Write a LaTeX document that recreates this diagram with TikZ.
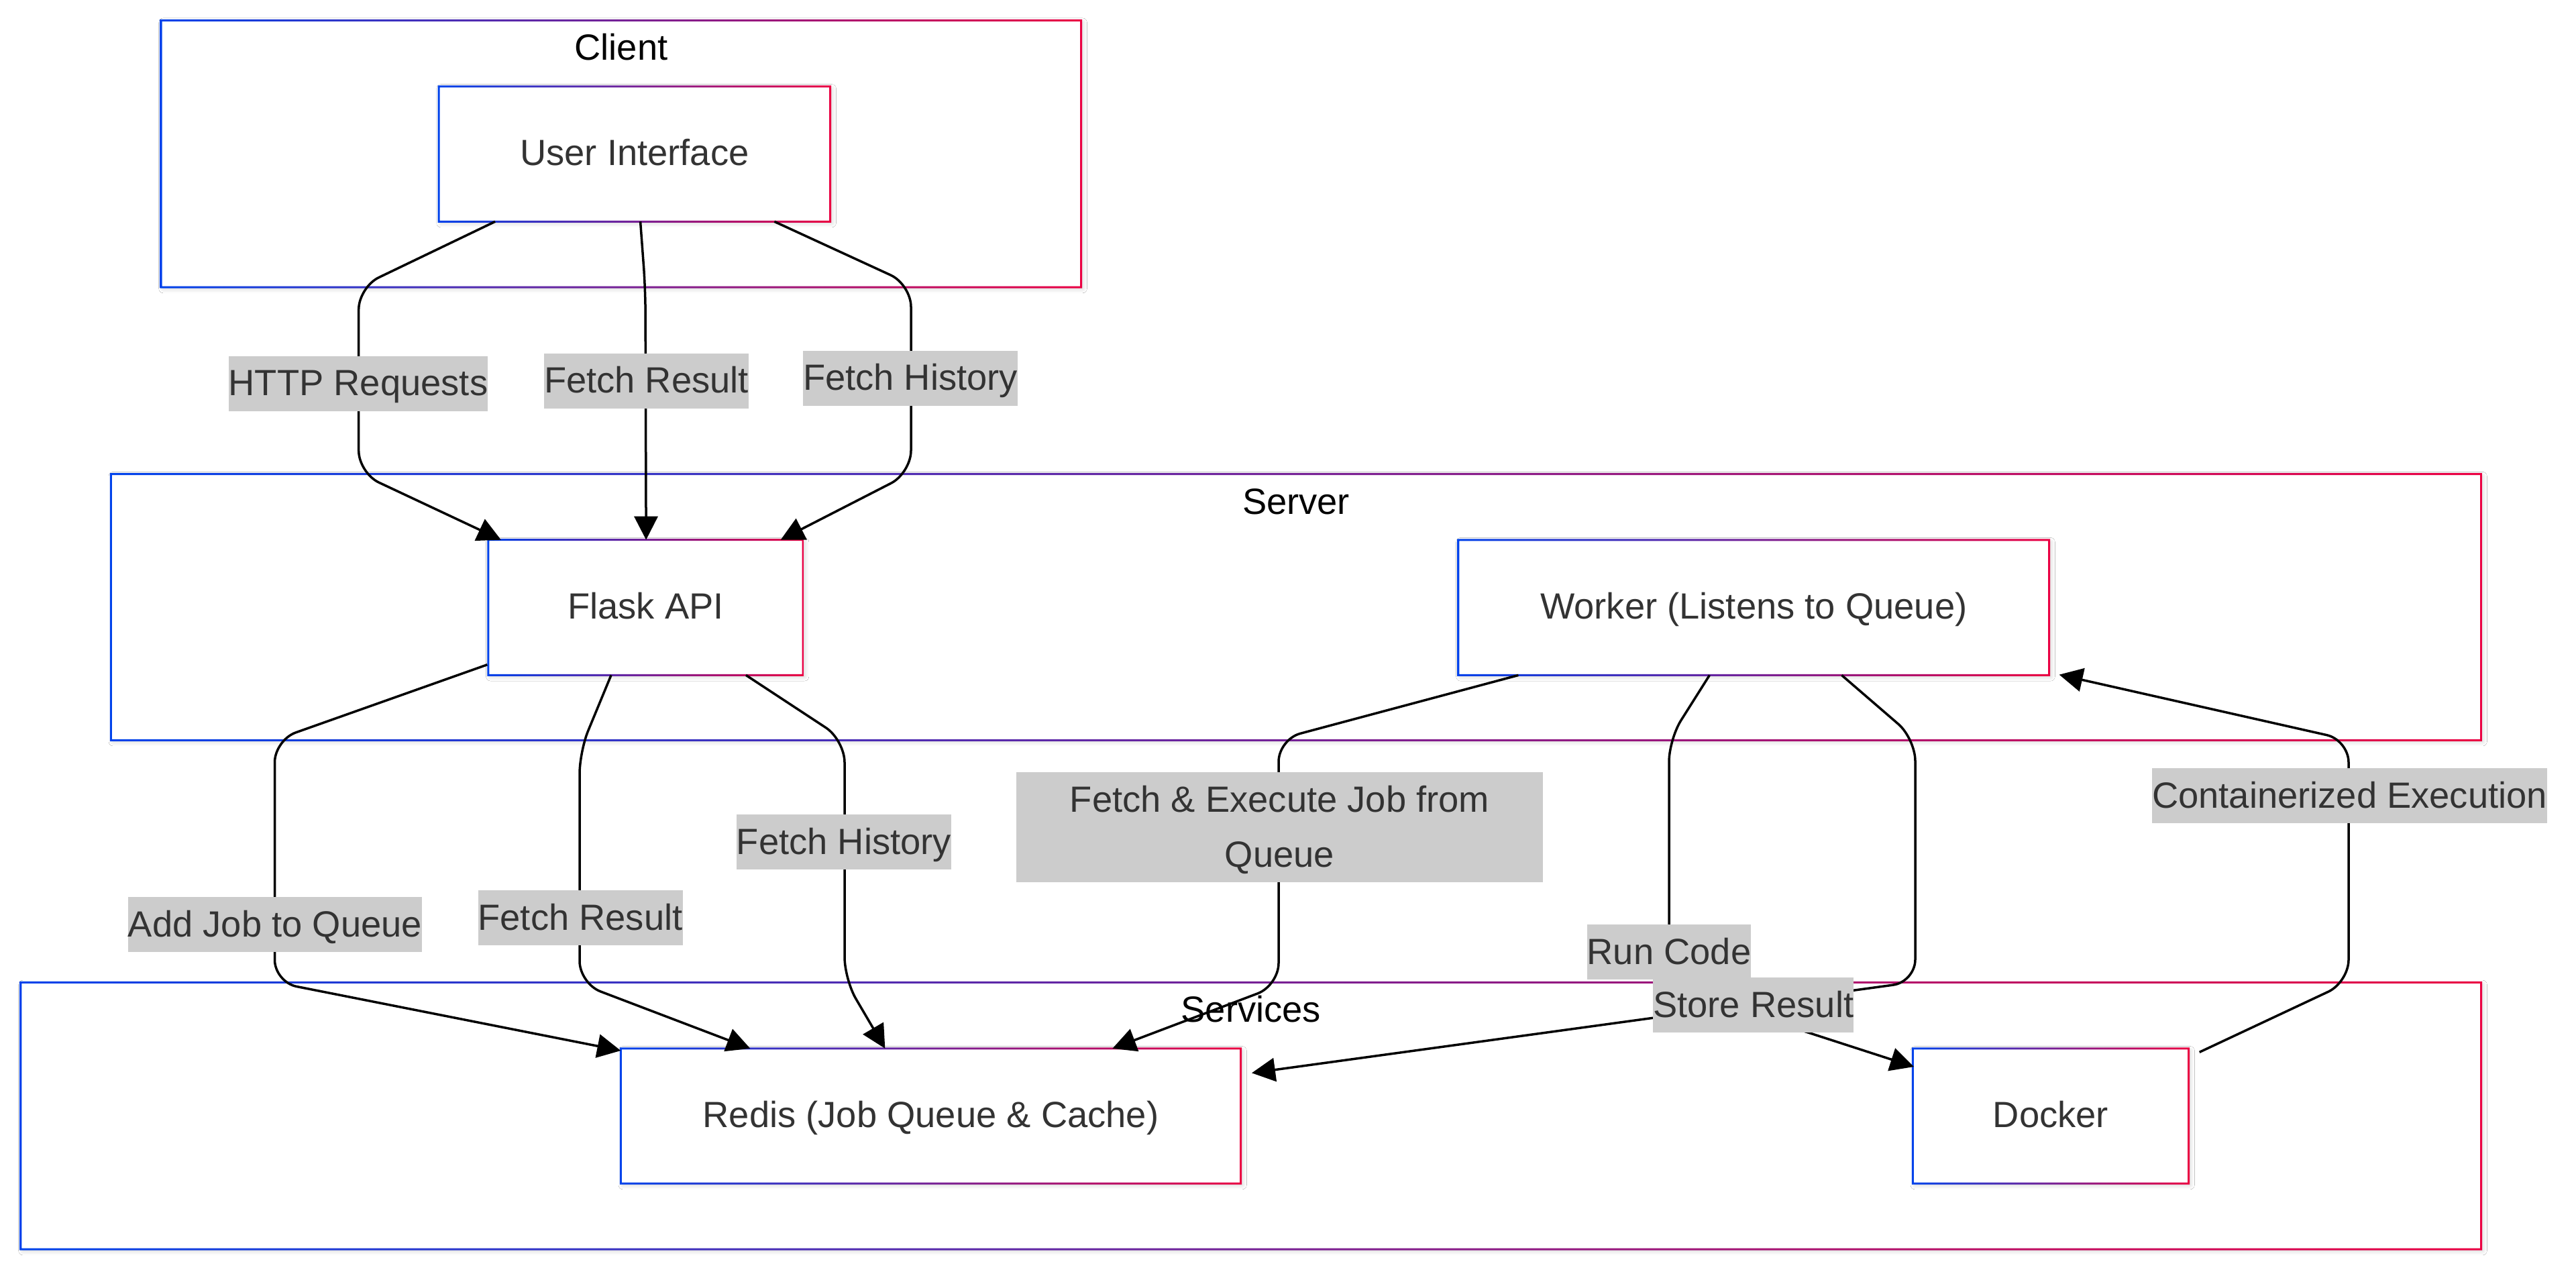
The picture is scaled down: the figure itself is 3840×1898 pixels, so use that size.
\documentclass[tikz,border=0pt]{standalone}
\usepackage{fontspec}
\setmainfont{Liberation Sans}
\usetikzlibrary{arrows.meta,calc,shadows.blur}
\definecolor{gs}{HTML}{0042EB}
\definecolor{ge}{HTML}{EB0042}
\definecolor{txt}{HTML}{333333}
\definecolor{lbl}{HTML}{CCCCCC}
\newcommand\bodyfont{\fontsize{16.3}{24.6}\selectfont}
\newcommand\lstrut{\rule[-6.9pt]{0pt}{24.6pt}}
\newcommand\gradring[1]{%
  \shade[left color=gs, right color=ge, even odd rule]
    ($(#1.north west)+(-1.5,-1.5)$) rectangle ($(#1.south east)+(1.5,1.5)$)
    ($(#1.north west)+(1.5,1.5)$) rectangle ($(#1.south east)+(-1.5,-1.5)$);}
\tikzset{
  shbox/.style={rectangle, fill=white, draw=none, inner sep=0pt, text=txt, font=\bodyfont,
    text height=17.5pt, text depth=7.1pt,
    blur shadow={shadow xshift=0.8pt, shadow yshift=-0.8pt, shadow blur radius=2pt, shadow opacity=20}},
  elabel/.style={rectangle, fill=lbl, inner sep=0pt, text=txt, font=\bodyfont,
    text height=17.7pt, text depth=6.9pt},
  elabeltwo/.style={rectangle, fill=lbl, inner sep=0pt, text=txt, font=\bodyfont, align=center},
  ctitle/.style={anchor=base, inner sep=0pt, font=\bodyfont, text=black},
  edge/.style={draw=black, line width=1.05pt, rounded corners=10pt, -{Triangle[length=10.5pt,width=10.5pt]}}
}
\begin{document}
\begin{tikzpicture}[x=0.3pt, y=-0.3pt]
\fill[white] (0,0) rectangle (3840,1898);
\useasboundingbox (0,0) rectangle (3840,1898);

% clusters
\node[shbox, minimum width=411.1pt, minimum height=118.95pt] (client) at (925.9,229.2) {};
\gradring{client}
\node[ctitle] (clientT) at (926,89.8) {Client};

\node[shbox, minimum width=1059.6pt, minimum height=118.56pt] (server) at (1932,905) {};
\gradring{server}
\node[ctitle] (serverT) at (1932,766) {Server};

\node[shbox, minimum width=1099.9pt, minimum height=118.95pt] (services) at (1864.8,1663.3) {};
\gradring{services}
\node[ctitle] (servicesT) at (1864.8,1523) {Services};

% nodes
\node[shbox, minimum width=174.7pt, minimum height=60pt] (ui) at (945.9,229.6) {User Interface};
\gradring{ui}
\node[shbox, minimum width=140.4pt, minimum height=60.1pt] (flask) at (962.5,905.5) {Flask API};
\gradring{flask}
\node[shbox, minimum width=263.8pt, minimum height=60.1pt] (worker) at (2614.3,905.6) {Worker (Listens to Queue)};
\gradring{worker}
\node[shbox, minimum width=276.9pt, minimum height=60pt] (redis) at (1387.5,1663.5) {Redis (Job Queue \& Cache)};
\gradring{redis}
\node[shbox, minimum width=123pt, minimum height=60pt] (docker) at (3057,1663.5) {Docker};
\gradring{docker}

% edges
\draw[edge] ($(ui.south west)+(84,0)$) -- (534.7,428) -- (534.7,705) -- ($(flask.north west)+(19,0)$);
\draw[edge] ($(ui.south west)+(300.5,0)$) -- (962,430) -- ($(flask.north west)+(235.3,0)$);
\draw[edge] ($(ui.south west)+(500.3,0)$) -- (1358,424) -- (1358,705) -- ($(flask.north east)+(-33.5,0)$);

\draw[edge] ($(flask.south west)+(-1.5,-15.6)$) -- (409.5,1103) -- (409.5,1464) -- ($(redis.north west)+(0,3.2)$);
\draw[edge] ($(flask.south west)+(183.2,0)$) -- (864,1120) -- (864,1466) -- ($(redis.north west)+(193,0)$);
\draw[edge] ($(flask.south west)+(384.1,0)$) -- (1259,1103) -- (1259,1460) -- ($(redis.north west)+(394,0)$);

\draw[edge] ($(worker.south west)+(89.4,0)$) -- (1906,1102) -- (1906,1469) -- ($(redis.north west)+(733,0)$);
\draw[edge] ($(worker.south west)+(374.4,0)$) -- (2488,1102) -- (2488,1472) -- ($(docker.north west)+(1.6,27.2)$);
\draw[edge] ($(worker.south west)+(571.4,0)$) -- (2855,1101) -- (2855,1463.6) -- ($(redis.north east)+(16.3,36.5)$);
\draw[edge] ($(docker.north east)+(16,5.5)$) -- (3501,1464) -- (3501,1103) -- ($(worker.south east)+(15,-0.8)$);

% edge labels
\node[elabel] (l1) at (534,571.6) {HTTP Requests};
\node[elabel] (l2) at (963.5,567.7) {Fetch Result};
\node[elabel] (l3) at (1357,563.8) {Fetch History};
\node[elabel] (l4) at (410,1378) {Add Job to Queue};
\node[elabel] (l5) at (865,1368) {Fetch Result};
\node[elabel] (l6) at (1258,1255) {Fetch History};
\node[elabeltwo, minimum width=235.5pt, minimum height=49.2pt] (l7) at (1907.5,1233) {\lstrut Fetch \& Execute Job from\\\lstrut Queue};
\node[elabel] (l8) at (2488,1419) {Run Code};
\node[elabel] (l9) at (2613.8,1498.3) {Store Result};
\node[elabel] (l10) at (3502.5,1186) {Containerized Execution};
\end{tikzpicture}
\end{document}
